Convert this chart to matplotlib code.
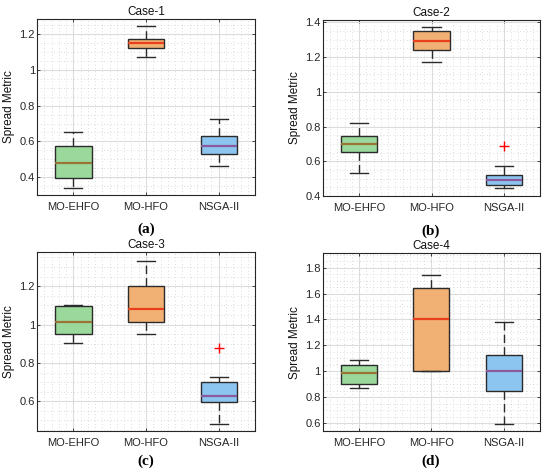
import numpy as np
import matplotlib
matplotlib.use('Agg')
from matplotlib import pyplot as plt
from matplotlib.ticker import AutoMinorLocator, MultipleLocator

# data: whisker low, Q1, median, Q3, whisker high, outliers =========
methods = ['MO-EHFO', 'MO-HFO', 'NSGA-II']
cases = ['Case-1', 'Case-2', 'Case-3', 'Case-4']
tags = ['(a)', '(b)', '(c)', '(d)']

case1 = [[0.34, 0.395, 0.48, 0.575, 0.65, []],
         [1.075, 1.12, 1.15, 1.175, 1.245, []],
         [0.46, 0.53, 0.575, 0.63, 0.725, []]]
case2 = [[0.535, 0.655, 0.70, 0.745, 0.82, []],
         [1.17, 1.24, 1.29, 1.35, 1.375, []],
         [0.445, 0.462, 0.495, 0.52, 0.575, [0.685]]]
case3 = [[0.905, 0.95, 1.015, 1.095, 1.10, []],
         [0.95, 1.015, 1.08, 1.20, 1.33, []],
         [0.48, 0.595, 0.625, 0.70, 0.725, [0.88]]]
case4 = [[0.87, 0.905, 0.99, 1.045, 1.09, []],
         [1.00, 1.00, 1.40, 1.645, 1.745, []],
         [0.595, 0.85, 1.00, 1.125, 1.38, []]]
all_cases = [case1, case2, case3, case4]

ylims = [(0.30, 1.285), (0.40, 1.413), (0.445, 1.38), (0.54, 1.91)]
yticks = [[0.4, 0.6, 0.8, 1.0, 1.2],
          [0.4, 0.6, 0.8, 1.0, 1.2, 1.4],
          [0.6, 0.8, 1.0, 1.2],
          [0.6, 0.8, 1.0, 1.2, 1.4, 1.6, 1.8]]
# ===================================================================

fills = ['#9bd89c', '#f2b174', '#8cc6f0']
medcols = ['#9a7436', '#e8401c', '#8a5a9c']

rects = [[0.0673, 0.5877, 0.3964, 0.3721],
         [0.5873, 0.5856, 0.3945, 0.3721],
         [0.0673, 0.0888, 0.3964, 0.3790],
         [0.5867, 0.0888, 0.3951, 0.3757]]
# sub-caption centres in pixels (x, y from top)
tag_pos = [(146, 229), (431, 231), (146, 461), (431, 461)]

plt.rcParams['font.family'] = ['Liberation Sans', 'DejaVu Sans']

fig = plt.figure(figsize=(5.5, 4.73), dpi=100)

for k in range(4):
    ax = fig.add_axes(rects[k])
    stats = []
    for i, d in enumerate(all_cases[k]):
        stats.append({'whislo': d[0], 'q1': d[1], 'med': d[2], 'q3': d[3],
                      'whishi': d[4], 'fliers': d[5], 'label': methods[i]})
    bp = ax.bxp(stats, positions=[1, 2, 3], widths=0.5, patch_artist=True,
                showfliers=True,
                boxprops=dict(edgecolor='#2b2b2b', linewidth=1.0),
                whiskerprops=dict(color='#2b2b2b', linewidth=1.0, linestyle=(0, (6, 3))),
                capprops=dict(color='#2b2b2b', linewidth=1.0),
                medianprops=dict(linewidth=1.6),
                flierprops=dict(marker='+', markeredgecolor='red', markersize=7,
                                markeredgewidth=1.0, linestyle='none'))
    for i, box in enumerate(bp['boxes']):
        box.set_facecolor(fills[i])
        box.set_zorder(2)
    for i, med in enumerate(bp['medians']):
        med.set_color(medcols[i])
        med.set_zorder(3)
    for w in bp['whiskers'] + bp['caps']:
        w.set_zorder(3)

    ax.set_xlim(0.5, 3.5)
    ax.set_ylim(*ylims[k])
    ax.set_yticks(yticks[k])
    ax.set_yticklabels(['1' if v == 1.0 else f'{v:g}' for v in yticks[k]])
    ax.set_xticks([1, 2, 3])
    ax.set_xticklabels(methods)
    ax.xaxis.set_minor_locator(MultipleLocator(0.1))
    ax.yaxis.set_minor_locator(AutoMinorLocator(4))
    ax.grid(True, which='major', color='#dcdcdc', linewidth=0.8, zorder=0)
    ax.grid(True, which='minor', color='#cfcfcf', linewidth=0.6,
            linestyle=(0, (1, 3)), zorder=0)
    ax.set_axisbelow(True)
    ax.tick_params(which='both', direction='in', labelsize=8, length=2.5,
                   width=0.6, colors='#262626', top=True, right=True)
    ax.tick_params(which='minor', length=0)
    ax.tick_params(axis='x', pad=5)
    ax.tick_params(axis='y', pad=1.5)
    for s in ax.spines.values():
        s.set_color('#262626')
        s.set_linewidth(0.8)
    ax.set_title(cases[k], fontsize=8.5, pad=3, color='#111111')
    ax.set_ylabel('Spread Metric', fontsize=8.5, labelpad=3, color='#111111')
    fig.text(tag_pos[k][0] / 550, 1 - tag_pos[k][1] / 473, tags[k],
             ha='center', va='center', fontsize=11,
             family='Liberation Serif', fontweight='bold')

fig.savefig('out.png', dpi=100)
